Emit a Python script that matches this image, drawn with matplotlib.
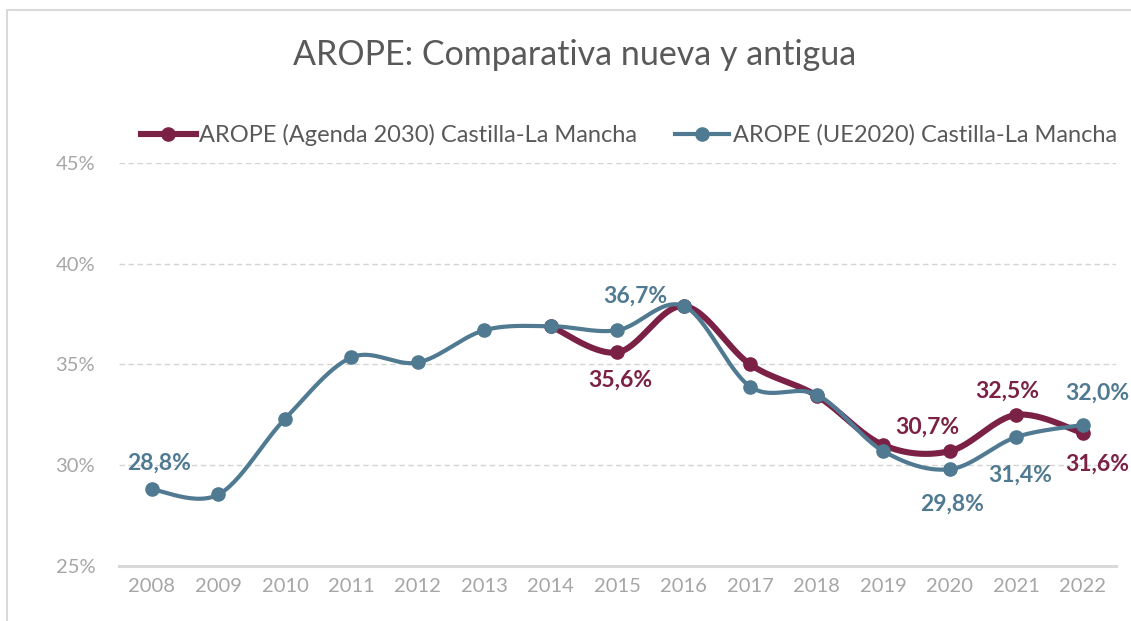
import numpy as np
import matplotlib
matplotlib.use("Agg")
import matplotlib.pyplot as plt
from matplotlib.lines import Line2D
from matplotlib.patches import Rectangle

plt.rcParams['font.family'] = ['Lato', 'DejaVu Sans']

years = [2008, 2009, 2010, 2011, 2012, 2013, 2014, 2015, 2016, 2017, 2018, 2019, 2020, 2021, 2022]
ue2020 = [28.8, 28.55, 32.3, 35.35, 35.1, 36.7, 36.9, 36.7, 37.9, 33.9, 33.5, 30.7, 29.8, 31.4, 32.0]
agenda_years = [2014, 2015, 2016, 2017, 2018, 2019, 2020, 2021, 2022]
agenda2030 = [36.9, 35.6, 37.9, 35.0, 33.45, 31.0, 30.7, 32.5, 31.6]
yticks = [25, 30, 35, 40, 45]

name_a = "AROPE (Agenda 2030) Castilla-La Mancha"
name_u = "AROPE (UE2020) Castilla-La Mancha"
title = "AROPE: Comparativa nueva y antigua"

c_a = "#7C2146"
c_u = "#507A91"

def smooth(x, y, n=30):
    x = np.asarray(x, float); y = np.asarray(y, float)
    P = np.column_stack([x, y])
    out = []
    for i in range(len(P) - 1):
        p0 = P[i - 1] if i > 0 else P[i]
        p1 = P[i]
        p2 = P[i + 1]
        p3 = P[i + 2] if i + 2 < len(P) else P[i + 1]
        c1 = p1 + (p2 - p0) / 6.0
        c2 = p2 - (p3 - p1) / 6.0
        t = np.linspace(0, 1, n)[:, None]
        seg = (1 - t) ** 3 * p1 + 3 * (1 - t) ** 2 * t * c1 + 3 * (1 - t) * t ** 2 * c2 + t ** 3 * p2
        out.append(seg if i == 0 else seg[1:])
    s = np.vstack(out)
    return s[:, 0], s[:, 1]

fig = plt.figure(figsize=(11.31, 6.21), dpi=100)
ax = fig.add_axes([0.105, 0.0886, 0.8817, 0.6489])

xu = np.array([years.index(y) for y in years])
xa = np.array([years.index(y) for y in agenda_years])

sx, sy = smooth(xa, agenda2030)
ax.plot(sx, sy, color=c_a, lw=4.4, solid_capstyle='round', zorder=3)
ax.plot(xa, agenda2030, 'o', color=c_a, ms=9.5, zorder=4)
sx, sy = smooth(xu, ue2020)
ax.plot(sx, sy, color=c_u, lw=3.0, solid_capstyle='round', zorder=5)
ax.plot(xu, ue2020, 'o', color=c_u, ms=9.5, zorder=6)

ax.set_xlim(-0.5, len(years) - 0.5)
ax.set_ylim(25, 45)
ax.set_yticks(yticks)
ax.set_yticklabels([f"{v}%" for v in yticks])
ax.set_xticks(xu)
ax.set_xticklabels([str(y) for y in years])
ax.tick_params(axis='both', length=0, labelsize=14.5, colors='#A6A6A6')
ax.tick_params(axis='y', pad=17)
ax.tick_params(axis='x', pad=9)
for s in ['top', 'right', 'left']:
    ax.spines[s].set_visible(False)
ax.spines['bottom'].set_color('#D9D9D9')
ax.spines['bottom'].set_linewidth(2.2)
for v in yticks[1:]:
    ax.axhline(v, color='#D4D4D4', lw=1.0, ls=(0, (4, 2.5)), zorder=1)

def lab(year, val, color, dx, dy):
    i = years.index(year)
    txt = f"{val:.1f}%".replace('.', ',')
    ax.annotate(txt, (i, val), xytext=(dx, dy), textcoords='offset pixels',
                ha='center', va='center', color=color, fontsize=16.5,
                fontweight='bold', zorder=7)

lab(2008, ue2020[0], c_u, 7, 26)
lab(2015, ue2020[7], c_u, 18, 34)
lab(2015, agenda2030[1], c_a, 3, -28)
lab(2020, agenda2030[6], c_a, -22, 24)
lab(2021, agenda2030[7], c_a, -9, 24)
lab(2022, ue2020[14], c_u, 15, 32)
lab(2021, ue2020[13], c_u, 4, -38)
lab(2022, agenda2030[8], c_a, 15, -31)
lab(2020, ue2020[12], c_u, 2, -35)

fig.text(575 / 1131, 1 - 55 / 621, title, ha='center', va='center',
         fontsize=24.5, color='#595959')

handles = [Line2D([], [], color=c_a, lw=4.4, marker='o', ms=9.5),
           Line2D([], [], color=c_u, lw=3.0, marker='o', ms=9.5)]
fig.legend(handles, [name_a, name_u], loc='center', ncol=2,
           bbox_to_anchor=(629 / 1131, 1 - 135 / 621), frameon=False,
           fontsize=17, labelcolor='#595959', handlelength=2.3,
           handletextpad=0.15, columnspacing=1.6)

fig.patches.append(Rectangle((7 / 1131, -0.1), 1.2, 1 - 10 / 621 + 0.1,
                             transform=fig.transFigure, fill=False,
                             edgecolor='#D9D9D9', lw=1.5, zorder=0))

fig.savefig("out.png", dpi=100)
